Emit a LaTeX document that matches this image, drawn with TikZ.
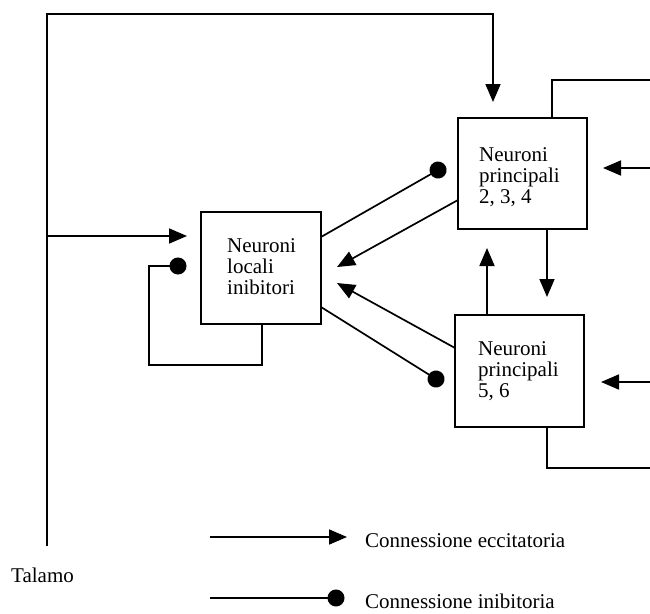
\documentclass[tikz,border=0pt]{standalone}
\usepackage{fontspec}
\setmainfont{Liberation Serif}
\usetikzlibrary{arrows.meta}
\begin{document}
\begin{tikzpicture}[x=1pt,y=-1pt,
  wire/.style={line width=1.7pt, line cap=butt, line join=miter},
  exc/.style={wire, -{Triangle[length=18pt,width=15pt]}},
  inh/.style={wire, -{Circle[length=17pt]}},
  cell/.style={draw, line width=1.7pt, inner sep=0pt, outer sep=0pt},
  lbl/.style={font=\fontsize{21}{21}\selectfont, inner sep=0pt, align=left, anchor=base west}]
\useasboundingbox (0,0) rectangle (650,613);

% cell populations
\node[cell, minimum width=120pt, minimum height=112pt] (A) at (261,268) {};
\node[cell, minimum width=129pt, minimum height=111pt] (B) at (522.5,173.5) {};
\node[cell, minimum width=129pt, minimum height=112pt] (C) at (519.5,371) {};

% labels (anchored on the baseline of their last line)
\node[lbl] (Atxt) at (227,294) {Neuroni\\locali\\inibitori};
\node[lbl] (Btxt) at (479,203) {Neuroni\\principali\\2, 3, 4};
\node[lbl] (Ctxt) at (478,397) {Neuroni\\principali\\5, 6};

% thalamic input
\coordinate (talBot) at (47,546);
\coordinate (talTop) at (47,14);
\coordinate (talJoin) at (47,236);
\draw[exc, shorten >=16pt] (talBot) -- (talTop) -| (B.north -| 493,0);
\draw[exc, shorten >=14pt] (talJoin) -- (A.west |- talJoin);
\node[lbl] (tal) at (11,582) {Talamo};

% recurrent inhibition of the local cells
\draw[inh, shorten >=14.5pt] (A.south -| 262,0) -- (262,365) -- (149,365) -- (149,266) -- (A.west |- 0,266);

% local <-> principal connections
\draw[inh, shorten >=14.5pt] (A.east |- 0,237) -- (B.west |- 0,158.6);
\draw[exc, shorten >=18.3pt] (B.west |- 0,200) -- (A.east |- 0,275.9);
\draw[exc, shorten >=18.3pt] (C.west |- 0,348) -- (A.east |- 0,274.2);
\draw[inh, shorten >=13.9pt] (A.east |- 0,307) -- (C.west |- 0,390.9);

% principal <-> principal
\draw[exc, shorten >=18pt] (B.south -| 547,0) -- (C.north -| 547,0);
\draw[exc, shorten >=19pt] (C.north -| 487,0) -- (B.south -| 487,0);

% inputs and outputs on the right
\coordinate (inB) at (650,168);
\coordinate (inC) at (650,382);
\coordinate (outB) at (650,80);
\coordinate (outC) at (650,468);
\draw[exc, shorten >=16pt] (inB) -- (B.east |- inB);
\draw[exc, shorten >=17pt] (inC) -- (C.east |- inC);
\draw[wire] (B.north -| 552,0) |- (outB);
\draw[wire] (C.south -| 547,0) |- (outC);

% legend
\coordinate (lgE) at (210,537);
\coordinate (lgEend) at (347,537);
\coordinate (lgI) at (210,598);
\coordinate (lgIend) at (344.5,598);
\draw[exc] (lgE) -- (lgEend);
\draw[inh] (lgI) -- (lgIend);
\node[lbl] (lgEtxt) at (365,547) {Connessione eccitatoria};
\node[lbl] (lgItxt) at (365,608) {Connessione inibitoria};
\end{tikzpicture}
\end{document}
